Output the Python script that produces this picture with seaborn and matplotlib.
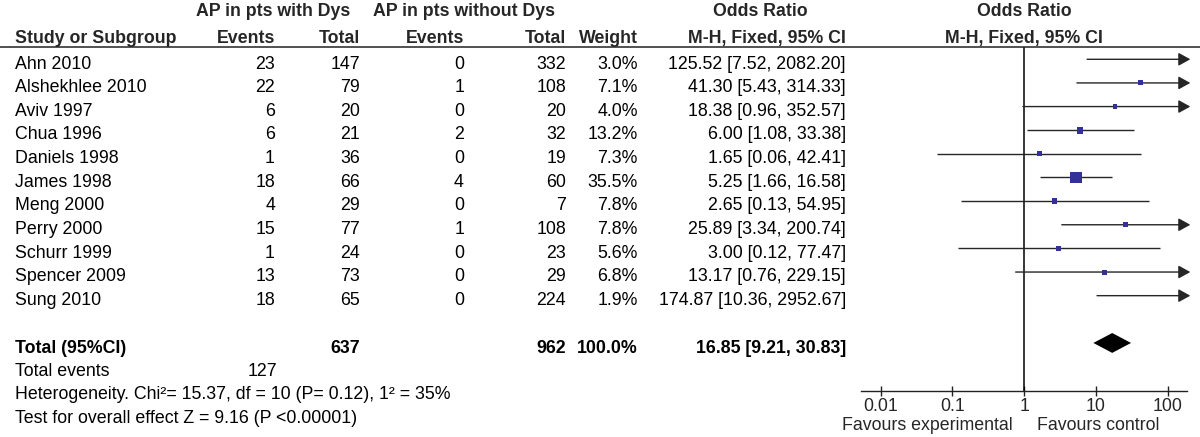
import numpy as np
import pandas as pd
import matplotlib
matplotlib.use("Agg")
import matplotlib.pyplot as plt
from matplotlib.lines import Line2D
from matplotlib.transforms import blended_transform_factory
import seaborn as sns

# ---------------- data ----------------
studies = ["Ahn 2010", "Alshekhlee 2010", "Aviv 1997", "Chua 1996", "Daniels 1998",
           "James 1998", "Meng 2000", "Perry 2000", "Schurr 1999", "Spencer 2009", "Sung 2010"]
events_dys = [23, 22, 6, 6, 1, 18, 4, 15, 1, 13, 18]
total_dys = [147, 79, 20, 21, 36, 66, 29, 77, 24, 73, 65]
events_nodys = [0, 1, 0, 2, 0, 4, 0, 1, 0, 0, 0]
total_nodys = [332, 108, 20, 32, 19, 60, 7, 108, 23, 29, 224]
weights = [3.0, 7.1, 4.0, 13.2, 7.3, 35.5, 7.8, 7.8, 5.6, 6.8, 1.9]
odds = [125.52, 41.30, 18.38, 6.00, 1.65, 5.25, 2.65, 25.89, 3.00, 13.17, 174.87]
ci_low = [7.52, 5.43, 0.96, 1.08, 0.06, 1.66, 0.13, 3.34, 0.12, 0.76, 10.36]
ci_high = [2082.20, 314.33, 352.57, 33.38, 42.41, 16.58, 54.95, 200.74, 77.47, 229.15, 2952.67]

total_dys_sum = 637
total_nodys_sum = 962
total_weight = "100.0%"
pooled_or = 16.85
pooled_low = 9.21
pooled_high = 30.83
total_events = 127
heterogeneity = "Heterogeneity. Chi\u00b2= 15.37, df = 10 (P= 0.12), 1\u00b2 = 35%"
overall = "Test for overall effect Z = 9.16 (P <0.00001)"

tick_values = [0.01, 0.1, 1, 10, 100]
tick_labels = ["0.01", "0.1", "1", "10", "100"]
axis_max = 100

df = pd.DataFrame({"study": studies, "ev1": events_dys, "n1": total_dys,
                   "ev2": events_nodys, "n2": total_nodys, "w": weights,
                   "or": odds, "lo": ci_low, "hi": ci_high})
df["row"] = np.arange(len(df))
total_row = len(df) + 1

# ---------------- style ----------------
sns.set_theme(style="white")
plt.rcParams["font.family"] = ["Liberation Sans", "DejaVu Sans"]
FS = 12.8
W, H = 1200, 437

fig = plt.figure(figsize=(12, 4.37), dpi=100)
ax_left, ax_right = 860.7, 1186.7
ax_top, ax_bot = 47.0, 390.7
ax = fig.add_axes([ax_left / W, 1 - ax_bot / H, (ax_right - ax_left) / W, (ax_bot - ax_top) / H])
ax.set_xscale("log")
ax.set_xlim(10 ** -2.279, 10 ** 2.265)
ax.set_ylim(14.02, -0.52)
ax.patch.set_alpha(0)

line_col = "#262626"
sq_col = "#33309a"

# CI lines and arrows
arrow_tip = 10 ** 2.315
for _, r in df.iterrows():
    if r["hi"] > axis_max:
        ax.annotate("", xy=(arrow_tip, r["row"]), xytext=(r["lo"], r["row"]),
                    arrowprops=dict(arrowstyle="-|>,head_length=0.65,head_width=0.36",
                                    color=line_col, lw=1.0, shrinkA=0, shrinkB=0,
                                    mutation_scale=11),
                    annotation_clip=False)
    else:
        ax.plot([r["lo"], r["hi"]], [r["row"], r["row"]], color=line_col, lw=1.0,
                solid_capstyle="butt")

# squares (weighted)
vis = df[df["or"] <= axis_max].copy()
side_px = np.maximum(1.9 * np.sqrt(vis["w"].to_numpy()), 4.8)
sizes = (side_px * 0.72) ** 2
sns.scatterplot(data=vis, x="or", y="row", marker="s", s=sizes, color=sq_col,
                linewidth=0, ax=ax, zorder=3, legend=False)

# pooled diamond
dh = 0.42
ax.fill([pooled_low, pooled_or, pooled_high, pooled_or],
        [total_row, total_row - dh, total_row, total_row + dh], color="black", lw=0, zorder=4)

# line of no effect
ax.axvline(1, color="black", lw=1.1, zorder=1)

# axis styling
for s in ["top", "left", "right"]:
    ax.spines[s].set_visible(False)
ax.spines["bottom"].set_color("#222222")
ax.spines["bottom"].set_linewidth(1.0)
ax.set_yticks([])
ax.set_xticks(tick_values)
ax.set_xticklabels(tick_labels)
ax.minorticks_off()
ax.tick_params(axis="x", direction="inout", length=7.5, width=1.0, color="#222222",
               labelsize=FS, pad=1.5, bottom=True)
ax.set_xlabel("")
ax.set_ylabel("")

ax.annotate("Favours experimental", xy=(1, 0), xycoords=("data", "axes fraction"),
            xytext=(-8, -28.5), textcoords="offset points", ha="right", va="baseline",
            fontsize=FS)
ax.annotate("Favours control", xy=(1, 0), xycoords=("data", "axes fraction"),
            xytext=(9, -28.5), textcoords="offset points", ha="left", va="baseline",
            fontsize=FS)

# header rule
fig.add_artist(Line2D([0, 1], [1 - ax_top / H, 1 - ax_top / H], transform=fig.transFigure,
                      color="#222222", lw=1.1))

# ---------------- table text ----------------
tr = blended_transform_factory(fig.transFigure, ax.transData)
off = 0.39
col = {"name": 15, "ev1": 275, "n1": 360, "ev2": 464, "n2": 566, "w": 638, "or": 846}


def t(xpx, y, s, ha="right", bold=False):
    fig.text(xpx / W, y, s, transform=tr, ha=ha, va="baseline", fontsize=FS,
             fontweight="bold" if bold else "normal", color="black")


for _, r in df.iterrows():
    y = r["row"] + off
    t(col["name"], y, r["study"], ha="left")
    t(col["ev1"], y, f"{r['ev1']}")
    t(col["n1"], y, f"{r['n1']}")
    t(col["ev2"], y, f"{r['ev2']}")
    t(col["n2"], y, f"{r['n2']}")
    t(col["w"], y, f"{r['w']:.1f}%")
    t(col["or"], y, f"{r['or']:.2f} [{r['lo']:.2f}, {r['hi']:.2f}]")

y = total_row + off + 0.03
t(col["name"], y, "Total (95%CI)", ha="left", bold=True)
t(col["n1"], y, f"{total_dys_sum}", bold=True)
t(col["n2"], y, f"{total_nodys_sum}", bold=True)
t(col["w"], y, total_weight, bold=True)
t(col["or"], y, f"{pooled_or:.2f} [{pooled_low:.2f}, {pooled_high:.2f}]", bold=True)

t(col["name"], total_row + 1 + off, "Total events", ha="left")
t(col["ev1"] + 2, total_row + 1 + off, f"{total_events}")
t(col["name"], total_row + 2 + off, heterogeneity, ha="left")
t(col["name"], total_row + 3 + off, overall, ha="left")

# headers
h1 = 1 - 16.0 / H
h2 = 1 - 42.7 / H


def h(xpx, y, s, ha):
    fig.text(xpx / W, y, s, ha=ha, va="baseline", fontsize=FS, fontweight="bold")


h(273, h1, "AP in pts with Dys", "center")
h(464, h1, "AP in pts without Dys", "center")
h(760, h1, "Odds Ratio", "center")
h(1024, h1, "Odds Ratio", "center")
h(col["name"], h2, "Study or Subgroup", "left")
h(col["ev1"], h2, "Events", "right")
h(col["n1"], h2, "Total", "right")
h(col["ev2"], h2, "Events", "right")
h(col["n2"], h2, "Total", "right")
h(col["w"], h2, "Weight", "right")
h(col["or"], h2, "M-H, Fixed, 95% CI", "right")
h(1024, h2, "M-H, Fixed, 95% CI", "center")

fig.savefig("out.png", dpi=100)
